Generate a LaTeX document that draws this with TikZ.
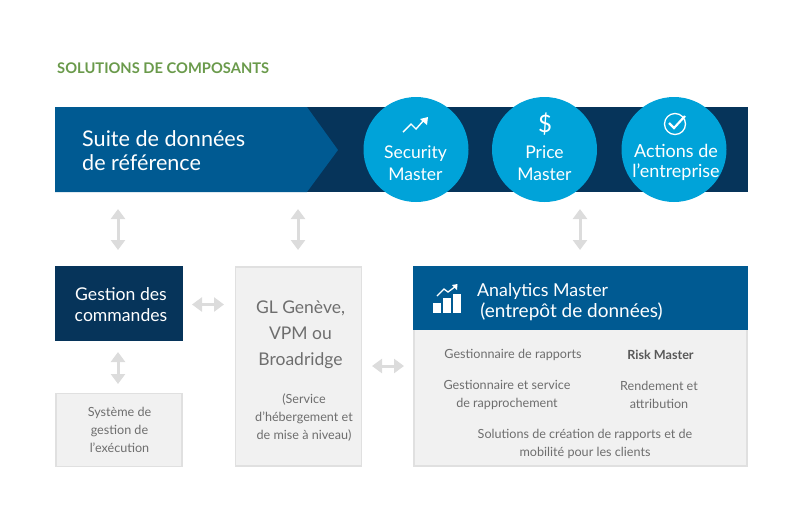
\documentclass[tikz,border=0pt]{standalone}
\usepackage{fontspec}
\setmainfont{Lato}
\usetikzlibrary{arrows.meta}
\definecolor{navy}{HTML}{06345A}
\definecolor{midblue}{HTML}{005A92}
\definecolor{cyanb}{HTML}{00A3D9}
\definecolor{greenT}{HTML}{6A9A4B}
\definecolor{boxfill}{HTML}{F1F1F1}
\definecolor{boxline}{HTML}{E0E0E0}
\definecolor{arrowg}{HTML}{DCDCDC}
\definecolor{textg}{HTML}{6E6E6E}
\tikzset{
 x=1pt,y=-1pt,
 circ/.style={circle,fill=cyanb,minimum size=105pt,inner sep=0pt},
 circtext/.style={text=white,font=\fontsize{17.5}{22}\selectfont,align=center,inner sep=0pt},
 darkbox/.style={fill=navy,inner sep=0pt},
 darktext/.style={text=white,inner sep=0pt,align=center,font=\fontsize{17.6}{20.5}\selectfont},
 graybox/.style={fill=boxfill,draw=boxline,line width=1.6pt,inner sep=0pt},
 smalltext/.style={text=textg,font=\fontsize{12.6}{18}\selectfont,align=center,inner sep=0pt},
 bigtext/.style={text=textg,font=\fontsize{17.5}{26}\selectfont,align=center,inner sep=0pt},
 biarrow/.style={draw=arrowg,line width=3pt,{Triangle[length=10pt,width=14pt]}-{Triangle[length=10pt,width=14pt]}},
 iconline/.style={draw=white,line width=1.4pt,line join=miter}
}
\begin{document}
\begin{tikzpicture}
\useasboundingbox (0,0) rectangle (800,523);
\node[anchor=west,inner sep=0pt,text=greenT,font=\fontsize{14.7}{16}\bfseries\selectfont] (title) at (57,68) {SOLUTIONS DE COMPOSANTS};
% bar
\fill[navy] (55,107) rectangle (748,192);
\fill[midblue] (55,107) -- (307,107) -- (338,150) -- (307,192) -- (55,192) -- cycle;
\node[anchor=west,inner sep=0pt,text=white,font=\fontsize{21.6}{24.5}\selectfont,align=left] (suite) at (82,150.5) {Suite de données\\de référence};
% circles
\node[circ] (c1) at (416,149.5) {};
\node[circ] (c2) at (544.5,149.5) {};
\node[circ] (c3) at (674,149.5) {};
\node[circtext] (t1) at (415.5,163) {Security\\Master};
\node[circtext] (t2) at (544.5,163) {Price\\Master};
\node[circtext,font=\fontsize{18}{20.5}\selectfont] (t3) at (676,162.5) {Actions de\\l’entreprise};
% icon trend
\draw[iconline] (403,132) -- (411,124) -- (416,129) -- (424,120);
\fill[white] (420,119) -- (428,117) -- (427,125) -- cycle;
% icon dollar
\node[text=white,inner sep=0pt,font=\fontsize{24}{24}\selectfont] (dollar) at (545,124) {\$};
% icon check
\draw[white,line width=1.3pt] (675,124) circle (10.5);
\draw[white,line width=2.2pt] (669,123) -- (674,128) -- (685,116);
% boxes
\node[darkbox,minimum width=128pt,minimum height=75pt] (gestion) at (119,303.5) {};
\node[darktext] (gestxt) at (121,304.5) {Gestion des\\commandes};
\node[graybox,minimum width=126pt,minimum height=199pt] (gl) at (298.5,366.5) {};
\node[bigtext,anchor=north] (gltxt) at (300.5,301) {GL Genève,\\VPM ou\\Broadridge};
\node[smalltext,anchor=north] (glsub) at (304,394) {(Service\\d’hébergement et\\de mise à niveau)};
\node[graybox,minimum width=126pt,minimum height=73pt] (sys) at (119,430) {};
\node[smalltext] (systxt) at (119.5,430) {Système de\\gestion de\\l’exécution};
\node[graybox,minimum width=333pt,minimum height=199pt] (am) at (580.5,366.5) {};
\fill[midblue] (412.5,266) rectangle (748,330);
\node[anchor=west,inner sep=0pt,text=white,font=\fontsize{17.8}{21}\selectfont,align=left] (amt) at (477,302) {Analytics Master\\[0pt]{\fontsize{19}{21}\selectfont\,(entrepôt de données)}};
% icon analytics
\fill[white] (433,303) rectangle (441,313);
\fill[white] (443,298) rectangle (451,313);
\fill[white] (453,294) rectangle (461,313);
\draw[white,line width=1.3pt] (437,296) -- (444,289) -- (448,292) -- (456,286);
\fill[white] (452,285) -- (457.5,284) -- (457,290) -- cycle;
% analytics content
\node[smalltext] (a1) at (513,355) {Gestionnaire de rapports};
\node[smalltext,font=\fontsize{12.6}{18}\bfseries\selectfont,text=textg!80!black] (a2) at (660.5,355) {Risk Master};
\node[smalltext] (a3) at (507,395) {Gestionnaire et service\\de rapprochement};
\node[smalltext] (a4) at (659,395) {Rendement et\\attribution};
\node[smalltext] (a5) at (585,444) {Solutions de création de rapports et de\\mobilité pour les clients};
% arrows
\coordinate (u1a) at (118,209); \coordinate (u1b) at (118,250);
\coordinate (u2a) at (298,209); \coordinate (u2b) at (298,250);
\coordinate (u3a) at (580,209); \coordinate (u3b) at (580,250);
\coordinate (v1a) at (118,352); \coordinate (v1b) at (118,384);
\coordinate (h1a) at (192,304.5); \coordinate (h1b) at (224,304.5);
\coordinate (h2a) at (372,366); \coordinate (h2b) at (404,366);
\draw[biarrow] (u1a) -- (u1b);
\draw[biarrow] (u2a) -- (u2b);
\draw[biarrow] (u3a) -- (u3b);
\draw[biarrow] (v1a) -- (v1b);
\draw[biarrow] (h1a) -- (h1b);
\draw[biarrow] (h2a) -- (h2b);
\end{tikzpicture}
\end{document}
